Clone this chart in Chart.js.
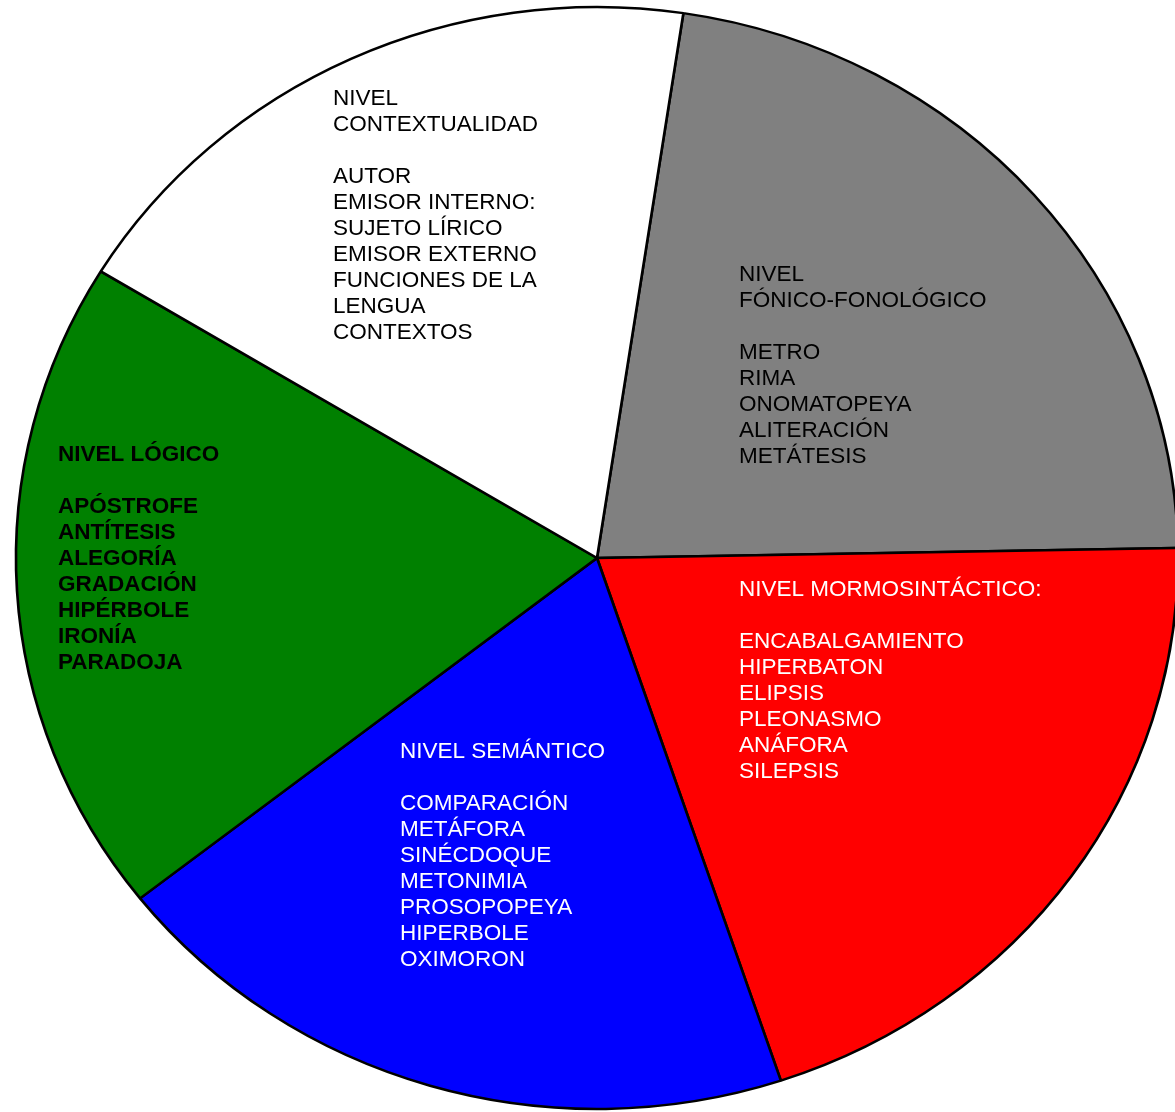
<!DOCTYPE html>
<html>
<head>
<meta charset="utf-8">
<script src="https://cdn.jsdelivr.net/npm/chart.js@4"></script>
<style>
    body { margin: 0; background: #fff; }
    canvas { display: block; }
</style>
</head>
<body>
<canvas id="pie" width="1175" height="1112"></canvas>
<script>
// Slices, clockwise from the top
const levels = ['Fónico-fonológico', 'Morfosintáctico', 'Semántico', 'Lógico', 'Contextualidad'];
const sizes = [80.4, 72.6, 70.3, 69.5, 67.2];
const colors = ['#808080', '#ff0000', '#0000ff', '#008000', '#ffffff'];
const textColors = ['#000', '#fff', '#fff', '#000', '#000'];
const boldText = [false, false, false, true, false];

const sliceTexts = [
    ['NIVEL', 'FÓNICO-FONOLÓGICO', '', 'METRO', 'RIMA', 'ONOMATOPEYA', 'ALITERACIÓN', 'METÁTESIS'],
    ['NIVEL MORMOSINTÁCTICO:', '', 'ENCABALGAMIENTO', 'HIPERBATON', 'ELIPSIS', 'PLEONASMO', 'ANÁFORA', 'SILEPSIS'],
    ['NIVEL SEMÁNTICO', '', 'COMPARACIÓN', 'METÁFORA', 'SINÉCDOQUE', 'METONIMIA', 'PROSOPOPEYA', 'HIPERBOLE', 'OXIMORON'],
    ['NIVEL LÓGICO', '', 'APÓSTROFE', 'ANTÍTESIS', 'ALEGORÍA', 'GRADACIÓN', 'HIPÉRBOLE', 'IRONÍA', 'PARADOJA'],
    ['NIVEL', 'CONTEXTUALIDAD', '', 'AUTOR', 'EMISOR INTERNO:', 'SUJETO LÍRICO', 'EMISOR EXTERNO', 'FUNCIONES DE LA', 'LENGUA', 'CONTEXTOS']
];

// where each text block starts, measured from the pie centre
const textOffsets = [[142, -283], [142, 32], [-197, 194], [-539, -103], [-264, -459]];
const lineHeight = 26;
// the original pie is a bit wider than it is tall
const stretchX = 1.0545;

const sliceTextPlugin = {
    id: 'sliceText',
    beforeDatasetsDraw(chart) {
        const ctx = chart.ctx;
        const arc = chart.getDatasetMeta(0).data[0];
        ctx.save();
        ctx.translate(arc.x, arc.y);
        ctx.scale(stretchX, 1);
        ctx.translate(-arc.x, -arc.y);
    },
    afterDatasetsDraw(chart) {
        const ctx = chart.ctx;
        ctx.restore();
        const arcs = chart.getDatasetMeta(0).data;
        ctx.save();
        ctx.textAlign = 'left';
        ctx.textBaseline = 'middle';
        arcs.forEach((arc, i) => {
            ctx.fillStyle = textColors[i];
            ctx.font = (boldText[i] ? 'bold ' : '') + '22.5px "Liberation Sans", Arial, sans-serif';
            const x = arc.x + textOffsets[i][0];
            const y = arc.y + textOffsets[i][1];
            sliceTexts[i].forEach((line, j) => {
                ctx.fillText(line, x, y + j * lineHeight);
            });
        });
        ctx.restore();
    }
};

new Chart(document.getElementById('pie'), {
    type: 'pie',
    data: {
        labels: levels,
        datasets: [{
            data: sizes,
            backgroundColor: colors,
            borderColor: '#000',
            borderWidth: 2.5,
            radius: 551,
            clip: false
        }]
    },
    options: {
        responsive: false,
        animation: false,
        rotation: 8.55,
        layout: { padding: { left: 19, right: 0, top: 4, bottom: 0 } },
        plugins: {
            legend: { display: false },
            tooltip: { enabled: false }
        }
    },
    plugins: [sliceTextPlugin]
});
</script>
</body>
</html>
